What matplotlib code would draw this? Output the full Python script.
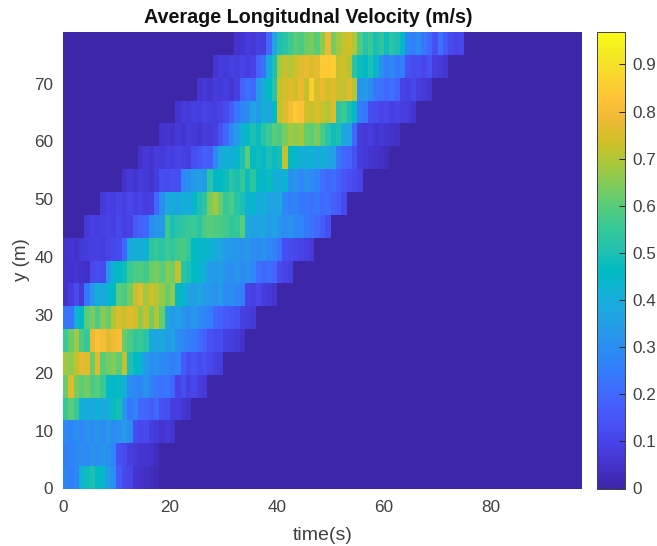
import numpy as np
import matplotlib

matplotlib.use("Agg")
import matplotlib.pyplot as plt
from matplotlib.colors import LinearSegmentedColormap

plt.rcParams["font.family"] = ["Liberation Sans", "DejaVu Sans"]

# velocity readings in hundredths of m/s, one value per second from row_start
row_start = [0, 0, 0, 0, 0, 0, 0, 0, 0, 0, 0, 4, 7, 11, 14, 18, 21, 25, 28, 32]
row_00 = [27, 26, 28, 42, 48, 50, 46, 44, 34, 30, 16, 12, 10, 6, 5, 4, 3, 2]
row_01 = [26, 27, 28, 30, 29, 31, 30, 32, 30, 27, 14, 12, 8, 7, 6, 6, 5, 3]
row_02 = [29, 27, 30, 28, 31, 29, 32, 30, 33, 29, 31, 34, 30, 13, 11, 12, 8, 7, 6, 7, 6]
row_03 = [55, 60, 56, 41, 40, 39, 42, 38, 41, 47, 49, 33, 24, 27, 20, 19, 17, 20, 14, 13, 8, 8, 6, 5]
row_04 = [62, 76, 64, 60, 63, 58, 60, 56, 46, 44, 47, 42, 30, 28, 27, 31, 26, 25, 22, 24, 20, 10, 13, 9, 11, 8, 7]
row_05 = [68, 66, 72, 77, 76, 62, 76, 60, 63, 65, 61, 72, 50, 46, 44, 34, 30, 31, 29, 28, 26, 27, 16, 13, 15, 12, 14,
          11, 9, 8]
row_06 = [56, 62, 68, 58, 55, 78, 82, 80, 76, 79, 81, 62, 58, 54, 56, 52, 40, 37, 39, 34, 36, 30, 28, 26, 25, 21, 18,
          14, 12, 13, 9, 8, 7, 5]
row_07 = [24, 23, 42, 46, 60, 64, 58, 65, 62, 70, 75, 73, 76, 74, 66, 72, 64, 70, 62, 38, 34, 36, 32, 30, 33, 29, 28,
          26, 20, 18, 16, 15, 14, 9, 8, 7]
row_08 = [5, 8, 12, 7, 24, 32, 42, 38, 44, 46, 60, 58, 63, 72, 76, 68, 74, 70, 67, 62, 66, 46, 44, 37, 35, 38, 34,
          33, 31, 34, 29, 30, 28, 26, 10, 9, 11, 8, 7, 6]
row_09 = [5, 5, 6, 5, 4, 11, 13, 12, 32, 43, 46, 48, 56, 58, 59, 57, 62, 64, 60, 65, 63, 72, 52, 50, 46, 44, 42,
          34, 33, 35, 31, 30, 32, 29, 31, 28, 22, 20, 21, 19, 12, 10, 9]
row_10 = [5, 6, 5, 7, 8, 8, 9, 8, 10, 11, 12, 20, 39, 41, 40, 42, 53, 55, 52, 56, 54, 57, 58, 55, 46, 44, 45, 42,
          40, 38, 34, 33, 32, 31, 33, 30, 29, 31, 28, 27, 22, 13, 12, 11, 10, 9, 7]
row_11 = [7, 9, 8, 9, 10, 9, 11, 9, 10, 16, 18, 20, 30, 32, 33, 56, 50, 52, 54, 55, 56, 52, 58, 60, 59, 58, 57, 54,
          55, 60, 38, 37, 36, 38, 34, 36, 32, 30, 31, 28, 27, 25, 22, 20, 17, 13]
row_12 = [7, 9, 8, 10, 9, 11, 9, 10, 8, 9, 20, 30, 38, 40, 37, 42, 39, 44, 50, 52, 64, 68, 62, 55, 58, 52, 50,
          42, 44, 38, 41, 37, 36, 38, 28, 26, 27, 24, 25, 22, 24, 20, 21, 18, 16, 12]
row_13 = [5, 7, 6, 8, 7, 6, 8, 13, 12, 14, 13, 28, 30, 33, 35, 34, 52, 44, 46, 48, 52, 50, 55, 48, 53, 46, 44, 47,
          42, 40, 43, 30, 32, 28, 31, 29, 27, 22, 20, 21, 18, 15, 13, 12, 10]
row_14 = [5, 7, 6, 8, 7, 9, 8, 10, 9, 8, 13, 15, 18, 17, 28, 38, 42, 40, 44, 50, 60, 46, 48, 45, 50, 47, 49, 72,
          46, 44, 42, 40, 43, 39, 41, 38, 36, 24, 20, 18, 14, 8, 7, 6, 5, 4, 3]
row_15 = [5, 6, 5, 7, 6, 8, 7, 6, 8, 7, 9, 14, 20, 28, 34, 42, 46, 50, 47, 52, 56, 60, 58, 64, 68, 66, 68, 62, 60,
          64, 58, 52, 48, 50, 38, 36, 20, 8, 7, 8, 6, 7, 6, 5, 4]
row_16 = [6, 8, 7, 9, 8, 10, 9, 8, 10, 12, 16, 24, 28, 30, 36, 34, 42, 38, 46, 72, 76, 80, 84, 82, 74, 72, 75, 73,
          70, 76, 52, 56, 50, 46, 26, 24, 13, 12, 10, 11, 9, 10, 8, 8, 6]
row_17 = [6, 7, 6, 8, 7, 8, 6, 9, 18, 22, 20, 34, 40, 46, 52, 72, 74, 76, 74, 78, 72, 86, 75, 78, 74, 76, 73, 72,
          76, 70, 32, 34, 30, 24, 22, 20, 22, 18, 10, 9, 11, 8, 7, 6]
row_18 = [6, 8, 7, 9, 8, 10, 8, 10, 18, 22, 40, 50, 68, 72, 70, 73, 76, 78, 75, 77, 85, 84, 86, 72, 74, 70, 52, 48,
          46, 50, 44, 30, 26, 28, 24, 26, 14, 12, 13, 11, 14, 8, 7, 6]
row_19 = [5, 6, 8, 7, 9, 8, 20, 36, 50, 52, 56, 60, 58, 62, 64, 60, 66, 78, 64, 68, 72, 74, 70, 58, 52, 56, 50, 54,
          48, 52, 50, 46, 28, 26, 30, 24, 20, 14, 22, 16, 12, 10, 11]
rows = [row_00, row_01, row_02, row_03, row_04, row_05, row_06, row_07, row_08, row_09,
        row_10, row_11, row_12, row_13, row_14, row_15, row_16, row_17, row_18, row_19]

time_max = 97
y_max = 79
x_ticks = [0, 20, 40, 60, 80]
y_ticks = [0, 10, 20, 30, 40, 50, 60, 70]
cbar_ticks = [0, 0.1, 0.2, 0.3, 0.4, 0.5, 0.6, 0.7, 0.8, 0.9]

PARULA = [
	(0.2422, 0.1504, 0.6603), (0.2647, 0.1978, 0.7952), (0.2783, 0.2559, 0.8991), (0.2810, 0.3228, 0.9579),
	(0.2699, 0.3892, 0.9906), (0.2206, 0.4603, 0.9973), (0.1786, 0.5289, 0.9682), (0.1540, 0.5902, 0.9218),
	(0.1248, 0.6459, 0.8883), (0.0689, 0.6948, 0.8394), (0.0067, 0.7312, 0.7660), (0.1408, 0.7584, 0.6842),
	(0.2161, 0.7843, 0.5923), (0.3406, 0.8008, 0.4789), (0.5044, 0.7993, 0.3480), (0.6720, 0.7793, 0.2227),
	(0.8203, 0.7498, 0.1535), (0.9393, 0.7288, 0.2100), (0.9970, 0.7659, 0.2199), (0.9786, 0.8386, 0.1766),
	(0.9597, 0.9135, 0.1423), (0.9769, 0.9839, 0.0805),
]
TEXT = "#404040"
W, H = 657, 546


def build_grid() -> np.ndarray:
	grid = np.zeros((len(rows), time_max))
	for i, row in enumerate(rows):
		start = row_start[i]
		grid[i, start:start + len(row)] = np.array(row) / 100.0
	return grid


def main() -> None:
	cmap = LinearSegmentedColormap.from_list("parula", PARULA)
	fig = plt.figure(figsize=(W / 100, H / 100), dpi=100)
	ax = fig.add_axes([63 / W, 1 - 488.5 / H, (582 - 63) / W, (488.5 - 31.5) / H])
	cax = fig.add_axes([597 / W, 1 - 488.5 / H, (625 - 597) / W, (488.5 - 31.5) / H])

	im = ax.imshow(
		build_grid(), origin="lower", aspect="auto", cmap=cmap, vmin=0, vmax=0.97,
		extent=[0, time_max, 0, y_max], interpolation="nearest",
	)
	ax.set_xticks(x_ticks)
	ax.set_yticks(y_ticks)
	ax.tick_params(axis="x", length=0, labelsize=12.3, colors=TEXT, pad=8)
	ax.tick_params(axis="y", length=0, labelsize=12.3, colors=TEXT, pad=7)
	for spine in ax.spines.values():
		spine.set_visible(False)
	ax.set_xlabel("time(s)", fontsize=14, color=TEXT, labelpad=9)
	ax.set_ylabel("y (m)", fontsize=13.5, color=TEXT, labelpad=3)
	ax.set_title("Average Longitudnal Velocity (m/s)", fontsize=14.2, fontweight="bold", color="#111111",
		x=(308.5 - 63) / (582 - 63), pad=6)

	cbar = fig.colorbar(im, cax=cax)
	cbar.set_ticks(cbar_ticks)
	cbar.set_ticklabels(["0", "0.1", "0.2", "0.3", "0.4", "0.5", "0.6", "0.7", "0.8", "0.9"])
	cbar.ax.tick_params(direction="in", length=4, width=0.7, labelsize=12.3, colors=TEXT, pad=5)
	cbar.ax.tick_params(color="#222222")
	cbar.outline.set_edgecolor("#404040")
	cbar.outline.set_linewidth(0.7)

	fig.savefig("out.png", dpi=100)
	plt.close(fig)


if __name__ == "__main__":
	main()
